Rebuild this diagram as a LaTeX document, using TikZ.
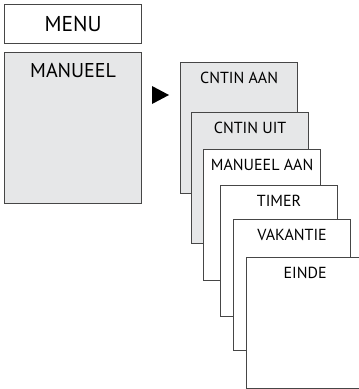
\documentclass[tikz,border=0pt]{standalone}
\usepackage{fontspec}
\setmainfont{PT Sans}
\definecolor{panelgray}{RGB}{230,231,232}
\definecolor{edgegray}{RGB}{70,70,70}

\begin{document}
\begin{tikzpicture}[x=1pt,y=-1pt,
 screen/.style={draw=edgegray,line width=1.2pt,anchor=north west,
   minimum width=117pt,minimum height=131pt,inner sep=0pt},
 item/.style={screen,fill=white,
   label={[anchor=north,inner sep=0pt,yshift=-10pt,font=\fontsize{16}{18}\selectfont]north:#1}},
 graybox/.style={item=#1,fill=panelgray}]

\useasboundingbox (0,0) rectangle (359,389);

% left column
\node [draw=edgegray,line width=1.2pt,anchor=north west,minimum width=137pt,
 minimum height=39pt,inner sep=0pt,font=\fontsize{21.5}{24}\selectfont] (menu) at (4,4) {MENU};
\node [draw=edgegray,line width=1.2pt,fill=panelgray,anchor=north west,minimum width=137pt,
 minimum height=151pt,inner sep=0pt,
 label={[anchor=north,inner sep=0pt,yshift=-11pt,font=\fontsize{20}{22}\selectfont]north:MANUEEL}] (man) at (4,52) {};

\fill (152,86) -- (169,95) -- (152,104) -- cycle;

% submenu stack
\node [graybox=CNTIN AAN] (aan) at (180,62) {};
\node [graybox=CNTIN UIT] (uit) at (191,112) {};
\node [item=MANUEEL AAN] (mana) at (203,149) {};
\node [item=TIMER] (tim) at (220,185) {};
\node [item=VAKANTIE] (vak) at (233,219) {};
\node [item=EINDE] (ein) at (246,257) {};

\end{tikzpicture}
\end{document}
